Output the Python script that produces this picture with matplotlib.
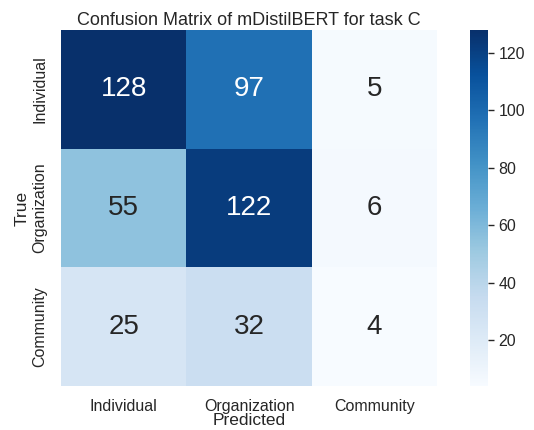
import matplotlib
matplotlib.use("Agg")
import matplotlib.pyplot as plt
import seaborn as sns
import numpy as np

labels = ["Individual", "Organization", "Community"]
row_individual = [128, 97, 5]
row_organization = [55, 122, 6]
row_community = [25, 32, 4]

sns.set_theme(style="white")
plt.rcParams['font.family'] = ['Liberation Sans', 'DejaVu Sans']

cm = np.array([row_individual, row_organization, row_community])

fig = plt.figure(figsize=(5.34, 4.30), dpi=100)
ax = fig.add_axes([0.114, 0.102, 0.705, 0.828])
cax = fig.add_axes([0.880, 0.102, 0.034, 0.828])
sns.heatmap(cm, annot=True, fmt="d", cmap="Blues", ax=ax, cbar_ax=cax,
            xticklabels=labels, yticklabels=labels,
            annot_kws={"fontsize": 20})
ax.set_title("Confusion Matrix of mDistilBERT for task C", fontsize=13, pad=4)
ax.set_xlabel("Predicted", fontsize=12.5, labelpad=-1)
ax.set_ylabel("True", fontsize=12.5, labelpad=2)
ax.tick_params(axis='both', labelsize=11.5)
plt.setp(ax.get_yticklabels(), rotation=90, va='center')
cax.tick_params(labelsize=11.5, length=4, width=1, color='.15', right=True)
fig.savefig("out.png", dpi=100)
